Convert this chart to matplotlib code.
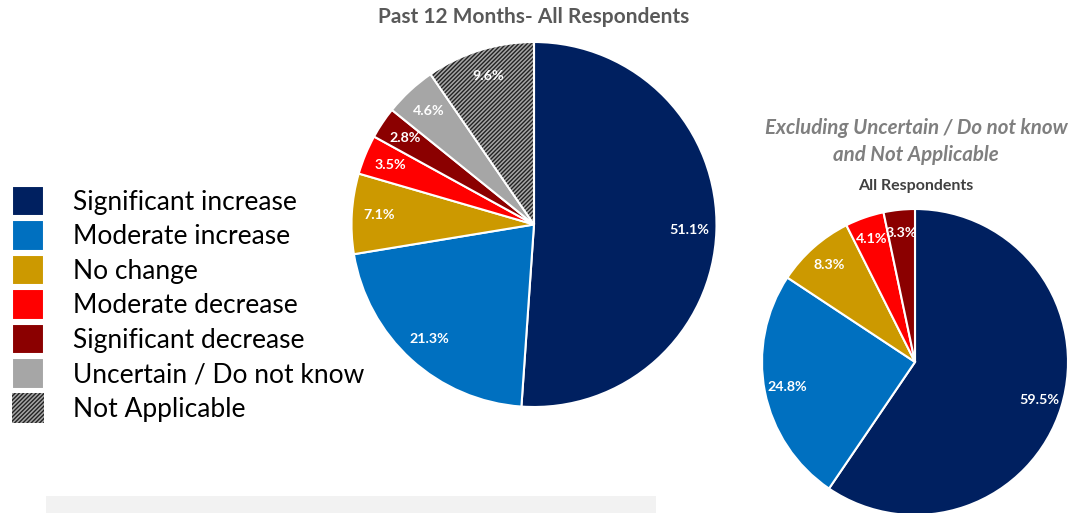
import matplotlib.pyplot as plt
from matplotlib.patches import Wedge, Rectangle

plt.rcParams['font.family'] = ['Lato', 'DejaVu Sans']
plt.rcParams['hatch.linewidth'] = 1.0

categories = ['Significant increase', 'Moderate increase', 'No change',
              'Moderate decrease', 'Significant decrease',
              'Uncertain / Do not know', 'Not Applicable']
all_values = [51.1, 21.3, 7.1, 3.5, 2.8, 4.6, 9.6]
excl_values = [59.5, 24.8, 8.3, 4.1, 3.3]
colors = ['#002060', '#0070C0', '#CC9900', '#FF0000', '#8B0000', '#A6A6A6', '#A6A6A6']

W, H = 1075, 513
fig = plt.figure(figsize=(W / 100, H / 100), dpi=100)


def pie_axes(cx, cy, r):
    ax = fig.add_axes([(cx - r) / W, (H - cy - r) / H, 2 * r / W, 2 * r / H])
    return ax


wp = dict(edgecolor='white', linewidth=1.5)
tp = dict(color='white', fontweight='bold', fontsize=10.3)

# main pie
ax1 = pie_axes(534, 224.5, 182.5)
wedges, _, _ = ax1.pie(all_values, colors=colors, startangle=90, counterclock=False,
                       radius=1, autopct='%.1f%%', pctdistance=0.85,
                       wedgeprops=wp, textprops=tp, frame=True)
ax1.axis('off')
ax1.set_xlim(-1, 1)
ax1.set_ylim(-1, 1)
na = wedges[-1]
na.set_hatch('////////')
na.set_edgecolor('#222222')
na.set_linewidth(0)
ax1.add_patch(Wedge(na.center, na.r, na.theta1, na.theta2, fill=False,
                    edgecolor='white', linewidth=1.5))
for t in ax1.texts:
    t.set_zorder(5)

# excluding pie
ax2 = pie_axes(915, 362, 153)
ax2.pie(excl_values, colors=colors[:5], startangle=90, counterclock=False,
        radius=1, autopct='%.1f%%', pctdistance=0.85,
        wedgeprops=wp, textprops=tp, frame=True)
ax2.axis('off')
ax2.set_xlim(-1, 1)
ax2.set_ylim(-1, 1)

fig.text(534 / W, 1 - 17 / H, 'Past 12 Months- All Respondents', ha='center', va='center',
         fontsize=15, fontweight='bold', color='#595959')
fig.text(916 / W, 1 - 128 / H, 'Excluding Uncertain / Do not know', ha='center', va='center',
         fontsize=14.8, fontweight='bold', fontstyle='italic', color='#7F7F7F')
fig.text(916 / W, 1 - 155 / H, 'and Not Applicable', ha='center', va='center',
         fontsize=14.8, fontweight='bold', fontstyle='italic', color='#7F7F7F')
fig.text(916 / W, 1 - 186 / H, 'All Respondents', ha='center', va='center',
         fontsize=11.5, fontweight='bold', color='#404040')

fig.legend(wedges, categories, loc='upper left', bbox_to_anchor=(12 / W, 1 - 186 / H),
           frameon=False, fontsize=19, handlelength=1.21, handleheight=1.4,
           labelspacing=0.15, handletextpad=1.1, borderpad=0, borderaxespad=0)

fig.patches.append(Rectangle((46 / W, 0), 610 / W, 17 / H, transform=fig.transFigure,
                             facecolor='#F2F2F2', edgecolor='none'))

fig.savefig('out.png', dpi=100)
